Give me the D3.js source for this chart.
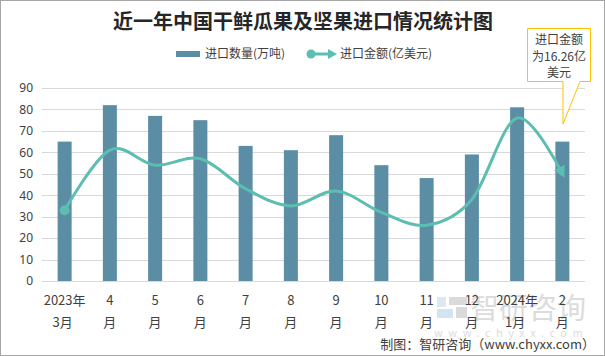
<!DOCTYPE html>
<html><head><meta charset="utf-8">
<script src="https://cdn.jsdelivr.net/npm/d3@7"></script>
<style>
html,body{margin:0;padding:0;background:#fff;}
svg{display:block;font-family:"Noto Sans CJK SC","Noto Sans",sans-serif;}
</style></head>
<body><svg id="c" width="605" height="356"></svg>
<script>
const categoriesTop = ["2023年","4","5","6","7","8","9","10","11","12","2024年","2"];
const categoriesBottom = ["3月","月","月","月","月","月","月","月","月","月","1月","月"];
const quantity = [65,82,77,75,63,61,68,54,48,59,81,65];
const amount = [33,61,54,57,43,35,42,32,26,38,76,50];
const yTicks = [0,10,20,30,40,50,60,70,80,90];
const title = "近一年中国干鲜瓜果及坚果进口情况统计图";
const legendLabels = ["进口数量(万吨)","进口金额(亿美元)"];
const calloutLines = ["进口金额","为16.26亿","美元"];

const svg = d3.select("#c");
const W = 605, H = 356;
const barColor = "#5b8da5", lineColor = "#5cbdb1", textColor = "#404040", gridColor = "#d9d9d9";

svg.append("rect").attr("x",0.5).attr("y",0.5).attr("width",W-1).attr("height",H-1)
  .attr("fill","#fff").attr("stroke","#a6a6a6");

const idx = d3.range(categoriesTop.length);
const x = d3.scaleBand().domain(idx).range([42,585]).padding(0);
const y = d3.scaleLinear().domain([0,90]).range([281,88]);

// watermark
const wm = svg.append("g").attr("opacity",0.9);
wm.append("rect").attr("x",437).attr("y",297).attr("width",9).attr("height",10).attr("fill","#dbe6f0");
wm.append("rect").attr("x",437).attr("y",309).attr("width",16).attr("height",9).attr("fill","#cfe0ef");
wm.append("rect").attr("x",449).attr("y",297).attr("width",18).attr("height",8).attr("fill","#d6d6d6");
wm.append("rect").attr("x",456).attr("y",307).attr("width",11).attr("height",11).attr("fill","#d6d6d6");
wm.append("text").attr("x",470).attr("y",319).attr("font-size",29).attr("fill","#d9d9d9").text("智研咨询");
wm.append("text").attr("x",434).attr("y",337).attr("font-size",11).attr("fill","#d9d9d9")
  .attr("letter-spacing","5.5px").text("www.chyxx.com");

// gridlines
svg.append("g").selectAll("line").data(yTicks).join("line")
  .attr("x1",42).attr("x2",585).attr("y1",d=>Math.round(y(d))+0.5).attr("y2",d=>Math.round(y(d))+0.5)
  .attr("stroke",gridColor).attr("stroke-width",1);

// y axis labels
const yAxis = d3.axisLeft(y).tickValues(yTicks).tickSize(0).tickPadding(0);
const ya = svg.append("g").attr("transform","translate(33,0)").call(yAxis);
ya.select(".domain").remove();
ya.selectAll("text").attr("font-size",12).attr("fill",textColor).attr("font-family","'Noto Sans','DejaVu Sans',sans-serif");

// bars
const bw = 14;
svg.append("g").selectAll("rect").data(quantity).join("rect")
  .attr("x",(d,i)=>x(i)+x.bandwidth()/2-bw/2).attr("width",bw)
  .attr("y",d=>y(d)).attr("height",d=>y(0)-y(d)).attr("fill",barColor);

// line
const defs = svg.append("defs");
defs.append("marker").attr("id","arr").attr("viewBox","0 0 10 10").attr("refX",6).attr("refY",5)
  .attr("markerWidth",4).attr("markerHeight",4).attr("orient","auto").attr("markerUnits","strokeWidth")
  .append("path").attr("d","M0,0 L10,5 L0,10 z").attr("fill",lineColor);
const line = d3.line().x((d,i)=>x(i)+x.bandwidth()/2).y(d=>y(d)).curve(d3.curveCatmullRom.alpha(0));
svg.append("path").datum(amount).attr("d",line).attr("fill","none").attr("stroke",lineColor)
  .attr("stroke-width",3).attr("marker-end","url(#arr)");
svg.append("circle").attr("cx",x(0)+x.bandwidth()/2).attr("cy",y(amount[0])).attr("r",5).attr("fill",lineColor);

// x labels
const xl = svg.append("g").attr("font-size",13).attr("fill",textColor).attr("text-anchor","middle");
xl.selectAll("text.t").data(categoriesTop).join("text").attr("class","t")
  .attr("x",(d,i)=>x(i)+x.bandwidth()/2).attr("y",305).text(d=>d);
xl.selectAll("text.b").data(categoriesBottom).join("text").attr("class","b")
  .attr("x",(d,i)=>x(i)+x.bandwidth()/2 - (d.length>1?2:0)).attr("y",327).text(d=>d);

// title
svg.append("text").attr("x",303).attr("y",29).attr("text-anchor","middle").attr("font-size",20)
  .attr("font-weight",700).attr("fill","#262626").text(title);

// legend
const lg = svg.append("g").attr("font-size",12).attr("fill",textColor);
lg.append("rect").attr("x",176).attr("y",51).attr("width",24).attr("height",6).attr("fill",barColor);
lg.append("text").attr("x",205).attr("y",58).text(legendLabels[0]);
lg.append("line").attr("x1",311).attr("x2",330).attr("y1",54).attr("y2",54).attr("stroke",lineColor).attr("stroke-width",3);
lg.append("circle").attr("cx",311).attr("cy",54).attr("r",4.5).attr("fill",lineColor);
lg.append("path").attr("d","M328,49 L337,54 L328,59 z").attr("fill",lineColor);
lg.append("text").attr("x",340).attr("y",58).text(legendLabels[1]);

// callout
svg.append("path").attr("d","M527.5,28.5 L590.5,28.5 L590.5,81.5 L580,81.5 L563,124 L563,81.5 L527.5,81.5 Z")
  .attr("fill","#fff").attr("stroke","#ffc000").attr("stroke-width",1);
svg.append("g").attr("font-size",12).attr("fill",textColor).attr("text-anchor","middle")
  .selectAll("text").data(calloutLines).join("text")
  .attr("x",559).attr("y",(d,i)=>44+i*16.5).text(d=>d);

// source
svg.append("text").attr("x",595).attr("y",349).attr("text-anchor","end").attr("font-size",13)
  .attr("fill",textColor).text("制图：智研咨询（www.chyxx.com）");
</script></body></html>
